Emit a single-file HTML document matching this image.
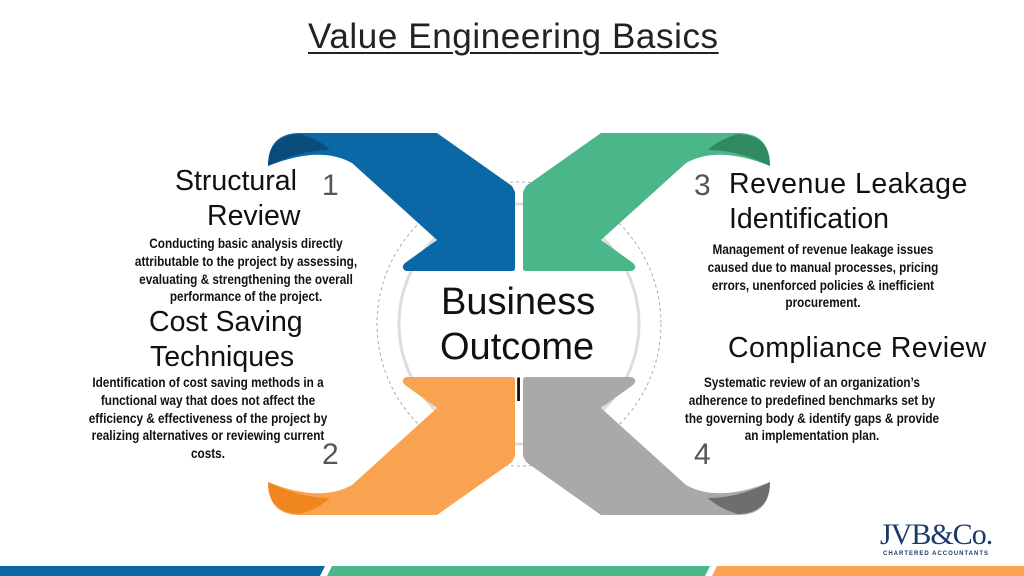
<!DOCTYPE html>
<html><head><meta charset="utf-8"><style>
body{margin:0;width:1024px;height:576px;background:#fff;position:relative;overflow:hidden;font-family:"Liberation Sans",sans-serif}
.a{position:absolute;white-space:nowrap}
.t{font-size:28.5px;color:#111}
.n{font-size:30px;color:#555}
.b{position:absolute;white-space:nowrap;font-weight:bold;font-size:14px;color:#111;text-align:center;transform:translateX(-50%) scaleX(0.84);line-height:17.8px}
</style></head><body>
<div class="a" style="left:308px;top:17px;font-size:35px;letter-spacing:0.6px;color:#222;text-decoration:underline;text-decoration-thickness:2px;text-underline-offset:4px">Value Engineering Basics</div>
<svg width="1024" height="576" style="position:absolute;left:0;top:0">
<defs>
<g id="arr">
<path d="M268,166 Q268,133 300,133 L437,133 L512,186 L515,192 L515,268 Q515,271 512,271 L406,271 Q400,268 405,263 L437,240 L352,163 Q320,145 268,166 Z"/>
</g>
</defs>
<circle cx="519" cy="324" r="142" fill="none" stroke="#999" stroke-dasharray="3,3" stroke-width="0.8"/>
<circle cx="519" cy="324" r="120" fill="#fff" stroke="#ddd" stroke-width="3"/>
<g fill="#0a68a6"><use href="#arr"/></g>
<path d="M268,166 Q268,135 300,134 Q320,140 330,150 Q300,150 268,166Z" fill="#0a4c7a"/>
<g transform="translate(1038,0) scale(-1,1)"><g fill="#4ab68a"><use href="#arr"/></g><path d="M268,166 Q268,135 300,134 Q320,140 330,150 Q300,150 268,166Z" fill="#2f8a62"/></g>
<g transform="translate(0,648) scale(1,-1)"><g fill="#f9a24f"><use href="#arr"/></g><path d="M268,166 Q268,135 300,134 Q320,140 330,150 Q300,150 268,166Z" fill="#ef871e"/></g>
<g transform="translate(1038,648) scale(-1,-1)"><g fill="#a9a9a9"><use href="#arr"/></g><path d="M268,166 Q268,135 300,134 Q320,140 330,150 Q300,150 268,166Z" fill="#6e6e6e"/></g>
<path d="M0,566 L325,566 L320,576 L0,576Z" fill="#0a68a6"/>
<path d="M332,566 L710,566 L705,576 L327,576Z" fill="#4ab68a"/>
<path d="M717,566 L1024,566 L1024,576 L712,576Z" fill="#f9a24f"/>
</svg>
<div class="a" style="left:441px;top:281px;font-size:38px;color:#111">Business</div>
<div class="a" style="left:440px;top:326px;font-size:38px;color:#111">Outcome</div>
<div class="a" style="left:515px;top:372px;font-size:32px;color:#111">l</div>

<div class="a t" style="left:175px;top:165px">Structural</div>
<div class="a t" style="left:207px;top:200px">Review</div>
<div class="a n" style="left:322px;top:169px">1</div>
<div class="b" style="left:246px;top:235px">Conducting basic analysis directly<br>attributable to the project by assessing,<br>evaluating &amp; strengthening the overall<br>performance of the project.</div>
<div class="a t" style="left:149px;top:306px">Cost Saving</div>
<div class="a t" style="left:150px;top:341px">Techniques</div>
<div class="b" style="left:208px;top:374px">Identification of cost saving methods in a<br>functional way that does not affect the<br>efficiency &amp; effectiveness of the project by<br>realizing alternatives or reviewing current<br>costs.</div>
<div class="a n" style="left:322px;top:438px">2</div>

<div class="a n" style="left:694px;top:169px">3</div>
<div class="a t" style="left:729px;top:168px;letter-spacing:0.5px">Revenue Leakage</div>
<div class="a t" style="left:729px;top:203px">Identification</div>
<div class="b" style="left:823px;top:241px">Management of revenue leakage issues<br>caused due to manual processes, pricing<br>errors, unenforced policies &amp; inefficient<br>procurement.</div>
<div class="a t" style="left:728px;top:332px;letter-spacing:0.4px">Compliance Review</div>
<div class="b" style="left:812px;top:374px">Systematic review of an organization’s<br>adherence to predefined benchmarks set by<br>the governing body &amp; identify gaps &amp; provide<br>an implementation plan.</div>
<div class="a n" style="left:694px;top:438px">4</div>

<div class="a" style="left:880px;top:518px;font-family:'Liberation Serif',serif;font-size:30px;color:#1b3a6b;letter-spacing:-1px">JVB&amp;Co.</div>
<div class="a" style="left:883px;top:551px;font-size:6px;font-weight:bold;color:#1b3a6b;letter-spacing:1px">CHARTERED ACCOUNTANTS</div>
</body></html>
